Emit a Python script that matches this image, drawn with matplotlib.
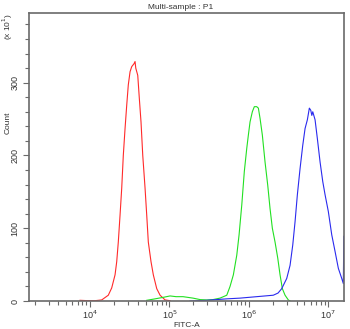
import matplotlib
matplotlib.use("Agg")
import matplotlib.pyplot as plt
import numpy as np

plt.rcParams['font.family'] = ['Liberation Sans', 'DejaVu Sans']

# histogram traces: log10(FITC-A) and count
red_logx = [3.874, 3.975, 4.063, 4.147, 4.230, 4.273, 4.315, 4.336, 4.356, 4.378,
            4.399, 4.419, 4.441, 4.462, 4.482, 4.504, 4.525, 4.554, 4.567, 4.576,
            4.601, 4.621, 4.642, 4.664, 4.693, 4.714, 4.734, 4.768, 4.797, 4.840,
            4.882, 4.945, 5.008]
red_count = [1, 0.5, 0.5, 1.5, 8, 18, 36, 54, 81, 118,
             155, 200, 237, 269, 297, 315, 322, 326, 329, 320,
             310, 278, 246, 200, 155, 118, 81, 54, 36, 17,
             8, 1.5, 0.5]

green_logx = [4.714, 4.819, 4.919, 5.008, 5.083, 5.171, 5.297, 5.385, 5.470, 5.549,
              5.637, 5.722, 5.763, 5.805, 5.848, 5.877, 5.911, 5.943, 5.974, 5.994,
              6.015, 6.044, 6.069, 6.099, 6.120, 6.141, 6.170, 6.204, 6.238, 6.267,
              6.296, 6.330, 6.364, 6.393, 6.422, 6.456, 6.497, 6.519]
green_count = [1, 3, 5, 7, 6, 6, 4, 2, 1.5, 2,
               4, 8, 20, 36, 63, 91, 132, 178, 210, 228,
               246, 260, 267, 267, 265, 251, 228, 191, 159, 127,
               100, 81, 59, 36, 17, 8, 1.5, 0]

blue_logx = [5.259, 5.470, 5.722, 5.889, 5.994, 6.099, 6.204, 6.308, 6.368, 6.414,
             6.477, 6.519, 6.553, 6.582, 6.611, 6.645, 6.679, 6.708, 6.737, 6.762,
             6.780, 6.793, 6.805, 6.834, 6.863, 6.897, 6.931, 6.960, 7.001, 7.044,
             7.086, 7.127, 7.170, 7.190, 7.196]
blue_count = [0, 1, 3, 4, 5, 6, 7, 8, 11, 17,
              31, 49, 77, 109, 146, 182, 214, 237, 249, 265,
              262, 255, 260, 249, 223, 191, 164, 146, 123, 91,
              68, 45, 31, 24, 89]

yticks = [0, 100, 200, 300]
xticks = [1e4, 1e5, 1e6, 1e7]
xtick_labels = ['10$^4$', '10$^5$', '10$^6$', '10$^7$']

fig = plt.figure(figsize=(3.5, 3.29), dpi=100)
ax = fig.add_axes([0.083, 0.085, 0.9, 0.874])

ax.plot(10 ** np.array(red_logx), red_count, color='#ff2a2a', lw=0.8)
ax.plot(10 ** np.array(green_logx), green_count, color='#22e022', lw=0.8)
ax.plot(10 ** np.array(blue_logx), blue_count, color='#2a2aee', lw=0.8)

ax.set_xscale('log')
ax.set_xlim(10 ** 3.232, 10 ** 7.199)
ax.set_ylim(0, 395)

ax.set_xticks(xticks)
ax.set_xticklabels(xtick_labels)
ax.set_yticks(yticks)
ax.set_yticks(np.arange(0, 395, 20), minor=True)
ax.set_yticklabels([str(v) for v in yticks], rotation=90, va='center')

ax.tick_params(axis='both', which='both', direction='out', color='#6a6a6a',
               labelsize=6.5, labelcolor='#333333')
ax.tick_params(axis='x', pad=1.5)
ax.tick_params(axis='y', pad=3)
ax.tick_params(axis='both', which='major', length=4, width=0.8)
ax.tick_params(axis='both', which='minor', length=3, width=0.8)

for s in ax.spines.values():
    s.set_color('#6a6a6a')
    s.set_linewidth(1.2)

ax.set_title('Multi-sample : P1', fontsize=6, color='#333333', pad=3, x=0.48)
ax.set_xlabel('FITC-A', fontsize=6, color='#333333', labelpad=1)
fig.text(0.023, 0.626, 'Count', rotation=90, fontsize=6, color='#333333',
         ha='center', va='center')
fig.text(0.023, 0.92, '(x 10$^1$)', rotation=90, fontsize=6, color='#333333',
         ha='center', va='center')

fig.savefig('out.png', dpi=100)
